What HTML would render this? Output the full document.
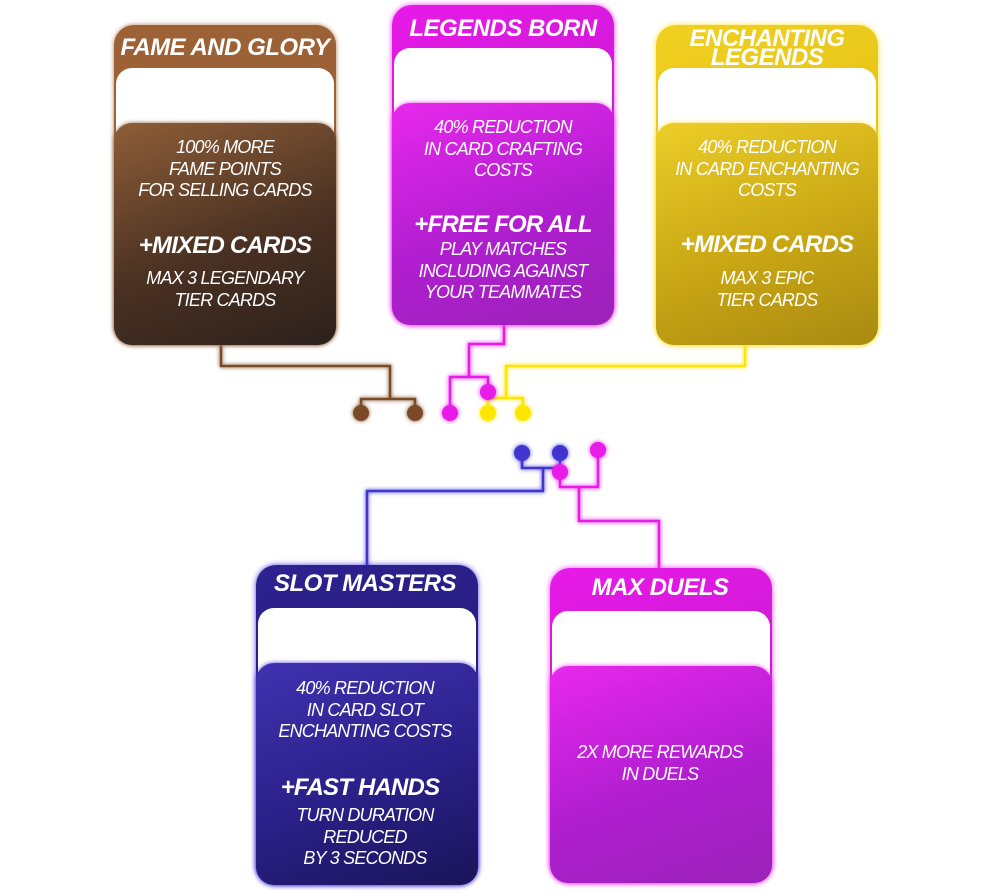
<!DOCTYPE html>
<html><head><meta charset="utf-8"><style>
body{margin:0;width:1000px;height:893px;background:#fff;position:relative;overflow:hidden;font-family:"Liberation Sans",sans-serif;}
.card{position:absolute;width:222px;height:320px;border-radius:20px;}
.card .w{position:absolute;left:2px;right:2px;top:43px;height:64px;background:#fff;border-radius:16px 16px 0 0;}
.card .b{position:absolute;left:0;right:0;top:98px;bottom:0;border-radius:18px;}
.t{position:absolute;color:#fff;font-style:italic;text-align:center;white-space:nowrap;transform:translateX(-50%);}
.h{font-weight:bold;font-size:24px;letter-spacing:-0.5px;line-height:24px;}
.p{font-size:18px;line-height:21.5px;letter-spacing:-0.8px;}
.s{font-weight:bold;font-size:24px;letter-spacing:-0.8px;line-height:26px;}
</style></head><body>
<svg width="1000" height="893" style="position:absolute;left:0;top:0">
<defs><filter id="g" x="-50%" y="-50%" width="200%" height="200%"><feGaussianBlur stdDeviation="2" result="b"/><feMerge><feMergeNode in="b"/><feMergeNode in="SourceGraphic"/></feMerge></filter></defs>
<g fill="none" stroke-width="2.5" filter="url(#g)">
<path d="M221 345V366H390V399M361 413V399H415V413" stroke="#7a4a28"/>
<path d="M504 325V344H469V377M450 413V377H488V392" stroke="#e81ae8"/>
<path d="M745 345V366H506V398M488 413V398H523V413" stroke="#ffe600"/>
<path d="M522 453V468H560V453M543 468V491H367V567" stroke="#4035d0"/>
<path d="M560 472V487H598V450M579 487V521H659V570" stroke="#e81ae8"/>
</g>
<g filter="url(#g)">
<circle cx="361" cy="413" r="8" fill="#7a4a28"/><circle cx="415" cy="413" r="8" fill="#7a4a28"/>
<circle cx="450" cy="413" r="8" fill="#e81ae8"/><circle cx="488" cy="392" r="8" fill="#e81ae8"/>
<circle cx="488" cy="413" r="8" fill="#ffe600"/><circle cx="523" cy="413" r="8" fill="#ffe600"/>
<circle cx="522" cy="453" r="8" fill="#4035d0"/><circle cx="560" cy="453" r="8" fill="#4035d0"/>
<circle cx="598" cy="450" r="8" fill="#e81ae8"/><circle cx="560" cy="472" r="8" fill="#e81ae8"/>
</g></svg>

<div class="card" style="left:114px;top:25px;background:#9c6134;box-shadow:0 0 5px #b07a50"><div class="w"></div><div class="b" style="background:linear-gradient(160deg,#8e5e38,#4a3122 55%,#2c211c);box-shadow:0 0 4px #8a6040"></div></div>
<div class="card" style="left:392px;top:5px;background:linear-gradient(160deg,#e81ae8,#a81cc0);box-shadow:0 0 6px #f040f0"><div class="w"></div><div class="b" style="background:linear-gradient(160deg,#e828ec,#b01ed0 55%,#9a22b8);box-shadow:0 0 5px #f040f0"></div></div>
<div class="card" style="left:656px;top:25px;background:linear-gradient(160deg,#f0d020,#d8b414);box-shadow:0 0 6px #ffe030"><div class="w"></div><div class="b" style="background:linear-gradient(160deg,#ecce28,#c9a614 55%,#a88a12);box-shadow:0 0 5px #ffe030"></div></div>
<div class="card" style="left:256px;top:565px;background:linear-gradient(160deg,#2e2290,#1c1668);box-shadow:0 0 6px #5040e0"><div class="w"></div><div class="b" style="background:linear-gradient(160deg,#4032b0,#2a2088 55%,#1a1458);box-shadow:0 0 5px #5040e0"></div></div>
<div class="card" style="left:550px;top:568px;height:315px;background:linear-gradient(160deg,#e81ae8,#a81cc0);box-shadow:0 0 6px #f040f0"><div class="w"></div><div class="b" style="background:linear-gradient(160deg,#e828ec,#b01ed0 55%,#9a22b8);box-shadow:0 0 5px #f040f0"></div></div>

<div class="t h" style="left:225px;top:36px">FAME AND GLORY</div>
<div class="t p" style="left:225px;top:137px">100% MORE<br>FAME POINTS<br>FOR SELLING CARDS</div>
<div class="t s" style="left:225px;top:233px">+MIXED CARDS</div>
<div class="t p" style="left:225px;top:268px">MAX 3 LEGENDARY<br>TIER CARDS</div>

<div class="t h" style="left:503px;top:17px">LEGENDS BORN</div>
<div class="t p" style="left:503px;top:117px">40% REDUCTION<br>IN CARD CRAFTING<br>COSTS</div>
<div class="t s" style="left:503px;top:212px">+FREE FOR ALL</div>
<div class="t p" style="left:503px;top:239px">PLAY MATCHES<br>INCLUDING AGAINST<br>YOUR TEAMMATES</div>

<div class="t h" style="left:767px;top:29px;line-height:19px">ENCHANTING<br>LEGENDS</div>
<div class="t p" style="left:767px;top:137px">40% REDUCTION<br>IN CARD ENCHANTING<br>COSTS</div>
<div class="t s" style="left:767px;top:232px">+MIXED CARDS</div>
<div class="t p" style="left:767px;top:268px">MAX 3 EPIC<br>TIER CARDS</div>

<div class="t h" style="left:365px;top:572px">SLOT MASTERS</div>
<div class="t p" style="left:365px;top:678px">40% REDUCTION<br>IN CARD SLOT<br>ENCHANTING COSTS</div>
<div class="t s" style="left:360px;top:775px">+FAST HANDS</div>
<div class="t p" style="left:365px;top:805px">TURN DURATION<br>REDUCED<br>BY 3 SECONDS</div>

<div class="t h" style="left:660px;top:576px">MAX DUELS</div>
<div class="t p" style="left:660px;top:742px">2X MORE REWARDS<br>IN DUELS</div>
</body></html>
